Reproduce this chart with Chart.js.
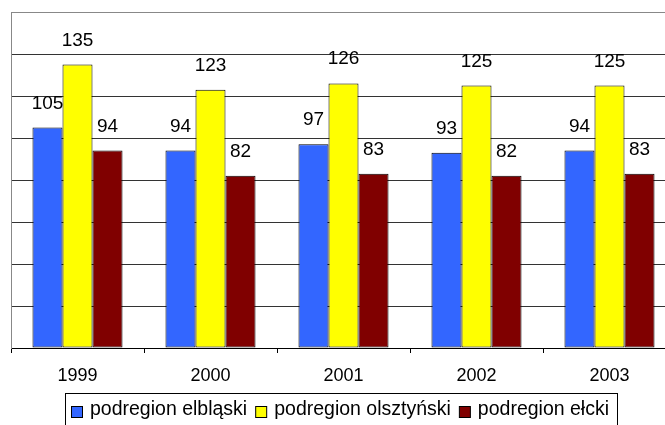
<!DOCTYPE html>
<html>
<head>
<meta charset="utf-8">
<script src="https://cdn.jsdelivr.net/npm/chart.js@4.4.1/dist/chart.umd.min.js"></script>
<style>
  html, body { margin: 0; padding: 0; background: #fff; }
  #wrap { width: 665px; height: 425px; overflow: hidden; position: relative; }
  canvas { display: block; }
</style>
</head>
<body>
<div id="wrap"><canvas id="myChart" width="680" height="425"></canvas></div>
<script>
const years = ['1999', '2000', '2001', '2002', '2003'];
const elblaski = [105, 94, 97, 93, 94];
const olsztynski = [135, 123, 126, 125, 125];
const elcki = [94, 82, 83, 82, 83];
const seriesNames = ['podregion elbląski', 'podregion olsztyński', 'podregion ełcki'];
const seriesColors = ['#3366FF', '#FFFF00', '#800000'];

const FONT = '"Liberation Sans", Arial, sans-serif';

// etykiety nad słupkami
const valueLabels = {
  id: 'valueLabels',
  afterDatasetsDraw(chart) {
    const ctx = chart.ctx;
    ctx.save();
    ctx.font = '19px ' + FONT;
    ctx.fillStyle = '#000';
    ctx.textAlign = 'center';
    ctx.textBaseline = 'alphabetic';
    chart.data.datasets.forEach((ds, i) => {
      chart.getDatasetMeta(i).data.forEach((bar, j) => {
        ctx.fillText(String(ds.data[j]), bar.x, bar.y - 19);
      });
    });
    ctx.restore();
  }
};

// legenda w ramce
const boxLegend = {
  id: 'boxLegend',
  afterDraw(chart) {
    const ctx = chart.ctx;
    ctx.save();
    ctx.font = '19.5px ' + FONT;
    const sq = 11, gapText = 8, gapItem = 8;
    const widths = chart.data.datasets.map(ds => ctx.measureText(ds.label).width);
    let total = 0;
    widths.forEach((w, i) => { total += sq + gapText + w + (i < widths.length - 1 ? gapItem : 0); });
    const boxW = Math.round(total + 14);
    const boxX = Math.round(340.5 - boxW / 2);
    const boxY = 393;
    ctx.strokeStyle = '#000';
    ctx.lineWidth = 1;
    ctx.strokeRect(boxX + 0.5, boxY + 0.5, boxW, 50);
    let x = boxX + 6;
    ctx.textBaseline = 'alphabetic';
    ctx.textAlign = 'left';
    chart.data.datasets.forEach((ds, i) => {
      ctx.fillStyle = ds.backgroundColor;
      ctx.fillRect(x + 0.5, 406.5, sq, sq);
      ctx.strokeRect(x + 0.5, 406.5, sq, sq);
      x += sq + gapText;
      ctx.fillStyle = '#000';
      ctx.fillText(ds.label, x, 415);
      x += widths[i] + gapItem;
    });
    ctx.restore();
  }
};

const datasets = [elblaski, olsztynski, elcki].map((vals, i) => ({
  label: seriesNames[i],
  data: vals,
  backgroundColor: seriesColors[i],
  borderColor: '#000',
  borderWidth: 1,
  borderSkipped: false,
  barPercentage: 1,
  categoryPercentage: 0.677
}));

const config = {
  type: 'bar',
  data: { labels: years, datasets: datasets },
  options: {
    responsive: false,
    animation: false,
    devicePixelRatio: 1,
    layout: { padding: { top: 12, left: 0, right: 4, bottom: 0 } },
    plugins: {
      legend: { display: false },
      tooltip: { enabled: false },
      title: { display: false }
    },
    scales: {
      x: {
        grid: {
          offset: true,
          drawOnChartArea: false,
          drawTicks: true,
          tickLength: 5,
          color: '#000'
        },
        border: { color: '#000', width: 1 },
        ticks: {
          color: '#000',
          font: { family: FONT, size: 18 },
          padding: 12
        },
        afterFit(s) { s.height = 77; }
      },
      y: {
        min: 0,
        max: 160,
        ticks: { display: false, stepSize: 20 },
        grid: {
          drawTicks: false,
          color: (c) => c.tick.value === 160 ? '#888' : (c.tick.value === 0 ? 'rgba(0,0,0,0)' : '#333')
        },
        border: { color: '#888', width: 1 },
        afterFit(s) { s.width = 11; }
      }
    }
  },
  plugins: [valueLabels, boxLegend]
};

const myChart = new Chart(document.getElementById('myChart'), config);
</script>
</body>
</html>
